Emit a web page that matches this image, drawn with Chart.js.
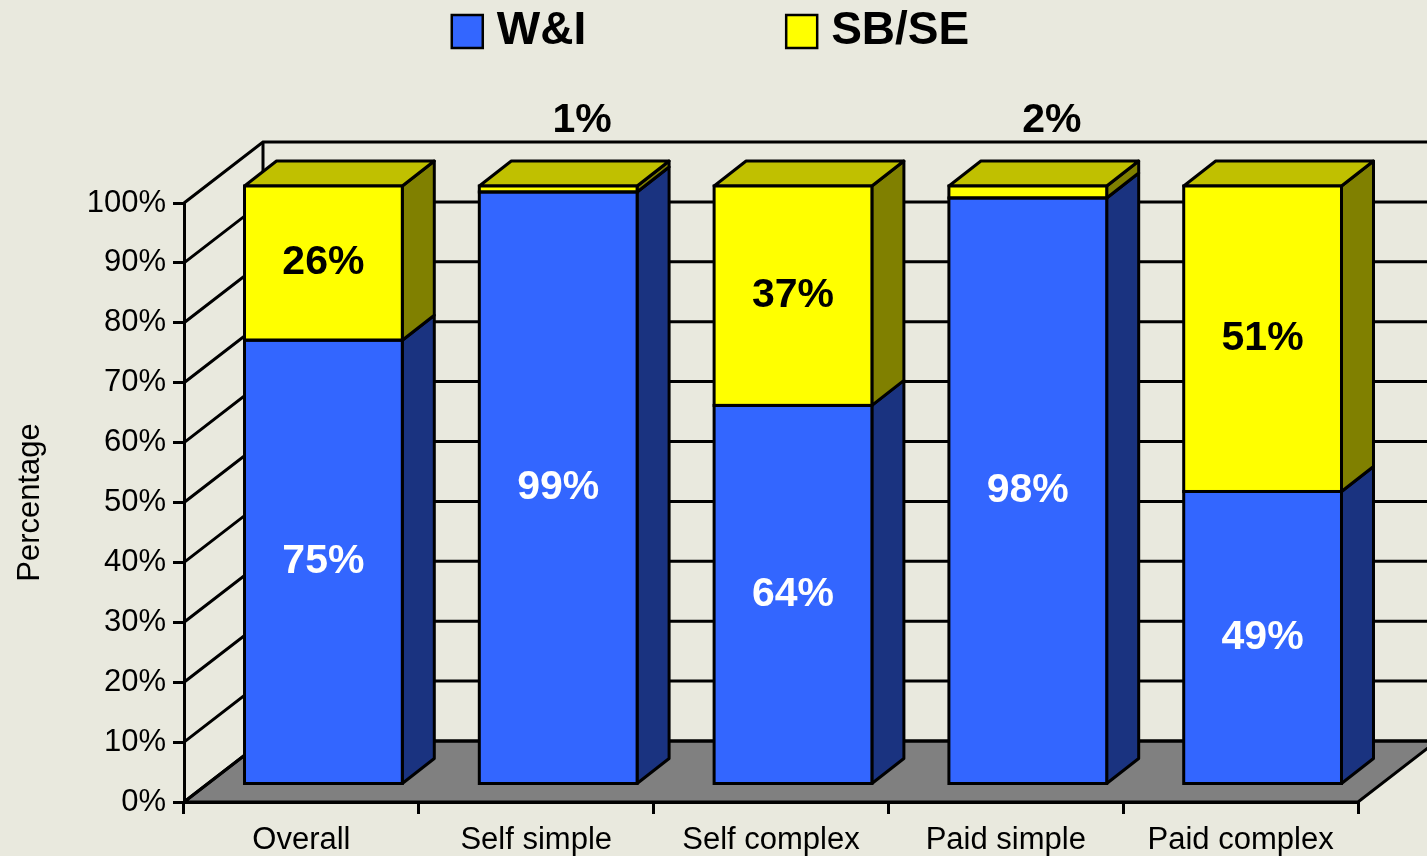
<!DOCTYPE html>
<html>
<head>
<meta charset="utf-8">
<script src="https://cdn.jsdelivr.net/npm/chart.js@4.4.1/dist/chart.umd.min.js"></script>
<style>
  html, body { margin: 0; padding: 0; background: #e9e9de; }
  #wrap { width: 1427px; height: 856px; position: relative; }
</style>
</head>
<body>
<div id="wrap"><canvas id="chart"></canvas></div>
<script>
const categories = ['Overall', 'Self simple', 'Self complex', 'Paid simple', 'Paid complex'];
const wiValues = [75, 99, 64, 98, 49];
const sbseValues = [26, 1, 37, 2, 51];
const seriesNames = ['W&I', 'SB/SE'];

// 100% stacked: each category is scaled to its own total, labels keep the rounded values
const totals = categories.map((c, i) => wiValues[i] + sbseValues[i]);
const share = arr => arr.map((v, i) => v / totals[i] * 100);

// depth offsets of the fake 3D: back wall, bar front plane, bar depth
const WALL = { x: 79, y: 61 };
const BAR = { x: 22, y: 17 };
const FACE = { x: 32, y: 25 };
const LINE = 3;

const FONT = "'Liberation Sans', Arial, sans-serif";
Chart.defaults.font.family = FONT;

function poly(ctx, pts, fill) {
    ctx.beginPath();
    ctx.moveTo(pts[0][0], pts[0][1]);
    pts.slice(1).forEach(p => ctx.lineTo(p[0], p[1]));
    ctx.closePath();
    ctx.fillStyle = fill;
    ctx.fill();
    ctx.stroke();
}

const threeD = {
    id: 'threeD',
    beforeDraw(chart) {
        const { ctx, chartArea: a, scales: { y } } = chart;
        const y0 = y.getPixelForValue(0);
        ctx.save();
        ctx.lineWidth = LINE;
        ctx.strokeStyle = '#000';
        // floor
        poly(ctx, [[a.left, y0], [a.right, y0], [a.right + WALL.x, y0 - WALL.y], [a.left + WALL.x, y0 - WALL.y]], '#808080');
        // side wall + back wall gridlines
        y.ticks.forEach(t => {
            const py = y.getPixelForValue(t.value);
            ctx.beginPath();
            ctx.moveTo(a.left, py);
            ctx.lineTo(a.left + WALL.x, py - WALL.y);
            ctx.lineTo(chart.width + 10, py - WALL.y);
            ctx.stroke();
        });
        ctx.beginPath();
        ctx.moveTo(a.left + WALL.x, y0 - WALL.y);
        ctx.lineTo(a.left + WALL.x, y.getPixelForValue(100) - WALL.y);
        ctx.stroke();
        ctx.restore();
    },
    beforeDatasetsDraw(chart) {
        const ctx = chart.ctx;
        const sets = chart.data.datasets;
        ctx.save();
        ctx.lineWidth = LINE;
        ctx.strokeStyle = '#000';
        ctx.lineJoin = 'round';
        sets.forEach((ds, di) => {
            chart.getDatasetMeta(di).data.forEach(bar => {
                const { x, y, base, width } = bar.getProps(['x', 'y', 'base', 'width'], true);
                const l = x - width / 2 + BAR.x, r = x + width / 2 + BAR.x;
                const t = y - BAR.y, b = base - BAR.y;
                poly(ctx, [[r, t], [r + FACE.x, t - FACE.y], [r + FACE.x, b - FACE.y], [r, b]], ds.sideColor);
                if (di === sets.length - 1) {
                    poly(ctx, [[l, t], [l + FACE.x, t - FACE.y], [r + FACE.x, t - FACE.y], [r, t]], ds.topColor);
                }
            });
        });
        ctx.restore();
        // the front faces sit on the bar plane, behind the axis plane
        ctx.save();
        ctx.translate(BAR.x, -BAR.y);
    },
    afterDatasetsDraw(chart) {
        const ctx = chart.ctx;
        // outline every front face (still on the translated bar plane)
        ctx.lineWidth = LINE;
        ctx.strokeStyle = '#000';
        chart.data.datasets.forEach((ds, di) => {
            chart.getDatasetMeta(di).data.forEach(bar => {
                const { x, y, base, width } = bar.getProps(['x', 'y', 'base', 'width'], true);
                ctx.strokeRect(x - width / 2, y, width, base - y);
            });
        });
        ctx.restore();
    },
    afterDraw(chart) {
        const ctx = chart.ctx;
        const raw = [wiValues, sbseValues];
        ctx.save();
        ctx.font = `bold 41px ${FONT}`;
        ctx.textAlign = 'center';
        ctx.textBaseline = 'middle';
        chart.data.datasets.forEach((ds, di) => {
            chart.getDatasetMeta(di).data.forEach((bar, i) => {
                const { x, y, base } = bar.getProps(['x', 'y', 'base'], true);
                const v = raw[di][i];
                let cx = x + BAR.x, cy = (y + base) / 2 - BAR.y;
                ctx.fillStyle = ds.labelColor;
                if (v < 5) {
                    cx = x + BAR.x + FACE.x * 0.75;
                    cy = y - BAR.y - FACE.y - 40;
                    ctx.fillStyle = '#000';
                }
                ctx.fillText(v + '%', cx, cy);
            });
        });

        // legend, centred across the top
        ctx.font = `bold 46px ${FONT}`;
        ctx.textAlign = 'left';
        const box = 31, gapText = 14, gapItem = 200;
        const widths = chart.data.datasets.map(ds => box + gapText + ctx.measureText(ds.label).width);
        let lx = (chart.width - widths.reduce((s, w) => s + w, 0) - gapItem * (widths.length - 1)) / 2 - 3;
        chart.data.datasets.forEach((ds, di) => {
            ctx.fillStyle = ds.backgroundColor;
            ctx.lineWidth = 2.5;
            ctx.strokeStyle = '#000';
            ctx.fillRect(lx, 15, box, 33);
            ctx.strokeRect(lx, 15, box, 33);
            ctx.fillStyle = '#000';
            ctx.fillText(ds.label, lx + box + gapText, 31);
            lx += widths[di] + gapItem;
        });
        ctx.restore();
    }
};

new Chart(document.getElementById('chart'), {
    type: 'bar',
    data: {
        labels: categories,
        datasets: [
            {
                label: seriesNames[0],
                data: share(wiValues),
                backgroundColor: '#3366ff',
                sideColor: '#1a3380',
                topColor: '#2a52cc',
                labelColor: '#ffffff',
                borderWidth: 0
            },
            {
                label: seriesNames[1],
                data: share(sbseValues),
                backgroundColor: '#ffff00',
                sideColor: '#808000',
                topColor: '#c0c000',
                labelColor: '#000000',
                borderWidth: 0
            }
        ]
    },
    options: {
        responsive: true,
        maintainAspectRatio: false,
        animation: false,
        layout: { padding: { top: 203, right: 69, left: 0, bottom: 0 } },
        datasets: { bar: { categoryPercentage: 1, barPercentage: 0.672 } },
        plugins: { legend: { display: false }, tooltip: { enabled: false } },
        scales: {
            x: {
                stacked: true,
                offset: true,
                afterFit: s => { s.height = 54; },
                grid: { offset: true, drawOnChartArea: false, tickLength: 12, color: '#000', lineWidth: LINE },
                border: { color: '#000', width: LINE },
                ticks: { color: '#000', font: { size: 31 }, padding: 8, maxRotation: 0, autoSkip: false }
            },
            y: {
                stacked: true,
                min: 0,
                max: 100,
                afterFit: s => { s.width = 184; },
                grid: { drawOnChartArea: false, tickLength: 11, color: '#000', lineWidth: LINE },
                border: { color: '#000', width: LINE },
                ticks: { stepSize: 10, color: '#000', font: { size: 31 }, padding: 7, callback: v => v + '%' },
                title: { display: true, text: 'Percentage', color: '#000', font: { size: 31 }, padding: { top: 12, bottom: 0 } }
            }
        }
    },
    plugins: [threeD]
});
</script>
</body>
</html>
